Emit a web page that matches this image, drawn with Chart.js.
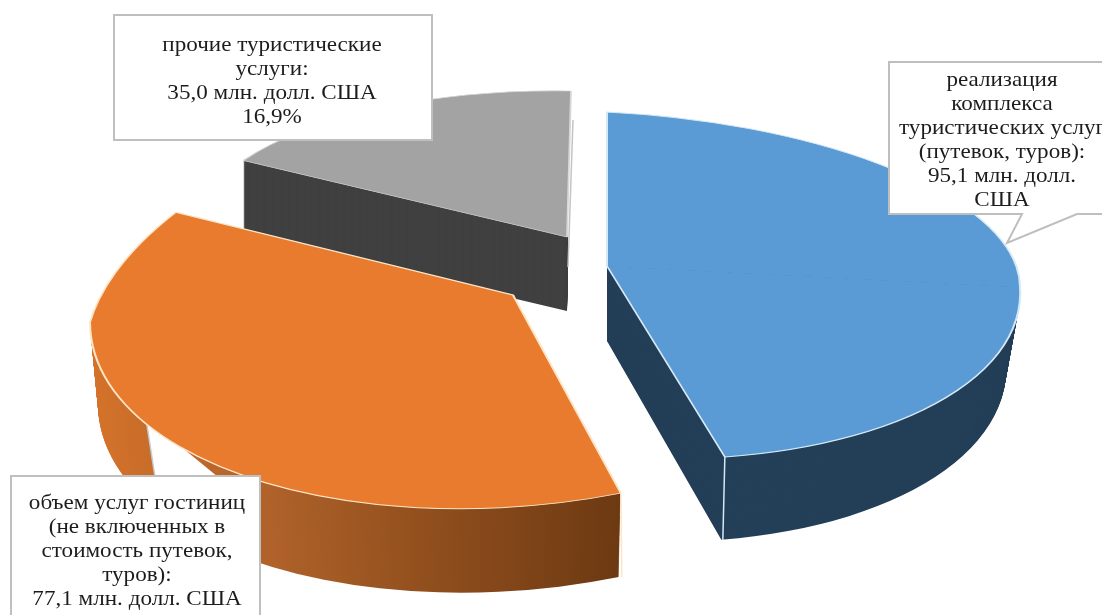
<!DOCTYPE html>
<html lang="ru">
<head>
<meta charset="utf-8">
<title>Структура туристических услуг</title>
<script src="https://cdn.jsdelivr.net/npm/chart.js@4"></script>
<style>
    html, body { margin: 0; padding: 0; background: #fff; }
    canvas { display: block; }
</style>
</head>
<body>
<canvas id="pieChart" width="1102" height="615"></canvas>
<script>
// Данные диаграммы
const categories = ['реализация комплекса туристических услуг', 'объем услуг гостиниц', 'прочие туристические услуги'];
const values = [95.1, 77.1, 35.0];
const blueLabel = ['реализация', 'комплекса', 'туристических услуг', '(путевок, туров):', '95,1 млн. долл.', 'США'];
const orangeLabel = ['объем услуг гостиниц', '(не включенных в', 'стоимость путевок,', 'туров):', '77,1 млн. долл. США'];
const grayLabel = ['прочие туристические', 'услуги:', '35,0 млн. долл. США', '16,9%'];

const topColors = ['#5b9bd5', '#e97b2f', '#a3a3a3'];
const rimColors = ['#d5e8f6', '#fde6c8', '#d8d8d8'];
const sideColors = ['#243f58', null, '#404040'];

// Проекция каждого сектора: вершина, оси "вправо", "вверх", "вниз", толщина
const views = [
    { apex: [607, 266], right: [413, 21], up: [0, -154], down: [13, 192], depth: 75, grow: 8, shrink: 14 },
    { apex: [513, 295], right: [423, -27], up: [66, -218], down: [0, 212], depth: 82, grow: 2, shrink: 8 },
    { apex: [567, 237], right: [373, 6], up: [4, -146], down: [0, 146], depth: 74, grow: 0, shrink: 0 }
];
const drawOrder = [2, 0, 1];

function applyView(ctx, arc, view, half, t) {
    const R = arc.outerRadius;
    const k = t / view.depth;
    const v = half === 'top' ? [-view.up[0], -view.up[1]] : [view.down[0], view.down[1] + view.grow * k];
    const a = (view.right[0] - view.shrink * k) / R, b = view.right[1] / R, c = v[0] / R, d = v[1] / R;
    ctx.transform(a, b, c, d,
        view.apex[0] - a * arc.x - c * arc.y,
        view.apex[1] + t - b * arc.x - d * arc.y);
}

// Сектор рисуется двумя половинами: ближняя часть эллипса больше дальней
function drawSlice(ctx, arc, view, t) {
    const R = arc.outerRadius + 6;
    ['top', 'bottom'].forEach(half => {
        ctx.save();
        applyView(ctx, arc, view, half, t);
        ctx.beginPath();
        if (half === 'top') ctx.rect(arc.x - R, arc.y - R, R * 2, R + 1);
        else ctx.rect(arc.x - R, arc.y, R * 2, R);
        ctx.clip();
        arc.draw(ctx);
        ctx.restore();
    });
}

function project(view, angle) {
    const dx = Math.cos(angle), dy = Math.sin(angle);
    const v = dy < 0 ? [-view.up[0], -view.up[1]] : view.down;
    return [view.apex[0] + dx * view.right[0] + dy * v[0], view.apex[1] + dx * view.right[1] + dy * v[1]];
}

function strokeEdge(ctx, color, x1, y1, x2, y2) {
    ctx.save();
    ctx.strokeStyle = color;
    ctx.lineWidth = 1.5;
    ctx.beginPath();
    ctx.moveTo(x1, y1);
    ctx.lineTo(x2, y2);
    ctx.stroke();
    ctx.restore();
}

const pie3d = {
    id: 'pie3d',
    beforeDatasetsDraw(chart) {
        const ctx = chart.ctx;
        const arcs = chart.getDatasetMeta(0).data;
        drawOrder.forEach(i => {
            const arc = arcs[i], view = views[i], base = arc.options;
            // Боковая поверхность
            let side = sideColors[i];
            if (!side) {
                side = ctx.createLinearGradient(arc.x - arc.outerRadius, 0, arc.x + arc.outerRadius * 0.26, 0);
                side.addColorStop(0, '#d4722a');
                side.addColorStop(0.33, '#b0622a');
                side.addColorStop(0.58, '#96521f');
                side.addColorStop(1, '#6c3912');
            }
            ctx.save();
            if (i === 2) {
                // у серого сектора бок не выходит правее вершины
                ctx.beginPath();
                ctx.rect(0, 0, view.apex[0] + 1, chart.height);
                ctx.clip();
            }
            arc.options = { ...base, backgroundColor: side, borderWidth: 0 };
            for (let t = view.depth; t >= 1; t--) drawSlice(ctx, arc, view, t);
            arc.options = base;
            ctx.restore();

            // Светлые ребра
            if (i === 2) {
                const tip = project(view, arc.endAngle);
                strokeEdge(ctx, '#c4c4c4', tip[0] + 2, tip[1] + 29, view.apex[0] + 1, view.apex[1] + 30);
            } else {
                const corner = project(view, i === 1 ? arc.startAngle : arc.endAngle);
                strokeEdge(ctx, rimColors[i], corner[0], corner[1], corner[0] - (i === 0 ? 2 : -1), corner[1] + view.depth + view.grow);
            }
            // Выноска оранжевого сектора лежит под его верхней гранью
            if (i === 1) {
                ctx.save();
                ctx.fillStyle = '#fff';
                ctx.beginPath();
                ctx.moveTo(155, 477);
                ctx.lineTo(146, 418);
                ctx.lineTo(218, 477);
                ctx.closePath();
                ctx.fill();
                ctx.restore();
                strokeEdge(ctx, '#c9c9c9', 155, 477, 146, 419);
            }

            drawSlice(ctx, arc, view, 0);
        });
        return false;
    },
    afterDraw(chart) {
        const ctx = chart.ctx;
        drawCallout(ctx, [[114, 15], [432, 15], [432, 140], [114, 140]], grayLabel, 272, 45);
        drawCallout(ctx, [[889, 62], [1106, 62], [1106, 214], [1077, 214], [1007, 243], [1022, 214], [889, 214]], blueLabel, 1002, 80);
        drawCallout(ctx, [[11, 476], [260, 476], [260, 620], [11, 620]], orangeLabel, 137, 503);
    }
};

function drawCallout(ctx, shape, lines, textX, textY) {
    ctx.save();
    ctx.beginPath();
    shape.forEach((p, i) => (i ? ctx.lineTo(p[0], p[1]) : ctx.moveTo(p[0], p[1])));
    ctx.closePath();
    ctx.fillStyle = '#fff';
    ctx.fill();
    ctx.strokeStyle = '#bfbfbf';
    ctx.lineWidth = 2;
    ctx.stroke();
    ctx.fillStyle = '#1c1c1c';
    ctx.font = '21px "Liberation Serif"';
    ctx.textAlign = 'center';
    ctx.textBaseline = 'middle';
    lines.forEach((line, i) => {
        ctx.save();
        ctx.translate(textX, textY + i * 24);
        ctx.scale(1.1, 1); // в оригинале текст немного растянут по ширине
        ctx.fillText(line, 0, 0);
        ctx.restore();
    });
    ctx.restore();
}

new Chart(document.getElementById('pieChart'), {
    type: 'pie',
    data: {
        labels: categories,
        datasets: [{
            data: values,
            backgroundColor: topColors,
            borderColor: rimColors,
            borderWidth: 1.5
        }]
    },
    options: {
        responsive: false,
        animation: false,
        devicePixelRatio: 1,
        layout: { padding: 0 },
        plugins: { legend: { display: false }, tooltip: { enabled: false } }
    },
    plugins: [pie3d]
});
</script>
</body>
</html>
